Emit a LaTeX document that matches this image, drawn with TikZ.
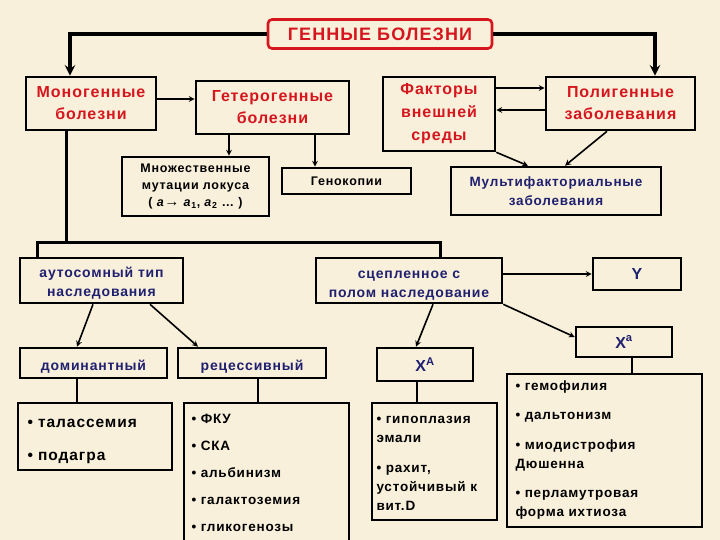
\documentclass[tikz,border=0pt]{standalone}
\usepackage{fontspec}
\setmainfont[LetterSpace=6]{Liberation Sans}
\usepackage{tikz}
\usetikzlibrary{positioning}
\usetikzlibrary{arrows}
\usetikzlibrary{calc}
\definecolor{paper}{RGB}{248,240,218}
\definecolor{redtext}{RGB}{214,22,30}
\definecolor{navy}{RGB}{32,32,112}

\begin{document}
\begin{tikzpicture}[
            x = 1pt, y = -1pt, % pixel grid of the slide
            > = stealth, % arrow head style
            line width = 1.6pt
        ]

        \tikzstyle{box}=[
            draw = black,
            line width = 2.6pt,
            fill = paper,
            align = center,
            inner sep = 0pt,
            font = \bfseries
        ]
        \tikzstyle{redbox}=[box, text = redtext, font = \bfseries\fontsize{16}{22}\selectfont]
        \tikzstyle{bluebox}=[box, text = navy, font = \bfseries\fontsize{14}{19}\selectfont]
        \tikzstyle{blackbox}=[box, font = \bfseries\fontsize{12.5}{17}\selectfont]
        \tikzstyle{items}=[anchor = north west, align = left, inner sep = 0pt]
        \tikzstyle{bus}=[line width = 3pt]
        \tikzstyle{main}=[line width = 3.6pt, ->]

        \useasboundingbox (0,0) rectangle (720,540);
        \fill[paper] (0,0) rectangle (720,540);

	% top level
        \node[box, draw = redtext, rounded corners = 4pt, text = redtext,
              minimum width = 224pt, minimum height = 29pt,
              font = \bfseries\fontsize{18}{20}\selectfont] (G) at (380,34) {ГЕННЫЕ БОЛЕЗНИ};
        \node[redbox, minimum width = 130pt, minimum height = 53pt] (Mono) at (91,103.5) {Моногенные\\болезни};
        \node[redbox, minimum width = 153pt, minimum height = 53pt] (Het) at (272.5,107.5) {Гетерогенные\\болезни};
        \node[redbox, minimum width = 112pt, minimum height = 74pt,
              font = \bfseries\fontsize{16}{23}\selectfont] (Fac) at (439,114) {Факторы\\внешней\\среды};
        \node[redbox, minimum width = 149pt, minimum height = 53pt] (Poly) at (620.5,103.5) {Полигенные\\заболевания};

        \draw[main] (G.west) -| ([xshift=-21pt]Mono.north);
        \draw[main] (G.east) -| ([xshift=34.5pt]Poly.north);

	% second level
        \node[blackbox, minimum width = 147pt, minimum height = 59pt] (Mut) at (195.5,186.5)
            {Множественные\\мутации локуса\\( \textit{a}{\fontsize{15}{17}\selectfont→}\ \textit{a}\textsubscript{1}, \textit{a}\textsubscript{2} … )};
        \node[blackbox, minimum width = 129pt, minimum height = 26pt] (Gc) at (346.5,181) {Генокопии};
        \node[bluebox, minimum width = 210pt, minimum height = 48pt,
              font = \bfseries\fontsize{13.5}{19}\selectfont] (Mf) at (556,191) {Мультифакториальные\\заболевания};

        \path[->] ([yshift=4.5pt]Mono.east) coordinate (m1) edge (m1 -| Het.west);
        \path[->] ([xshift=-43.5pt]Het.south) coordinate (h1) edge (h1 |- Mut.north);
        \path[->] ([xshift=42.5pt]Het.south) coordinate (h2) edge (h2 |- Gc.north);
        \path[->] ([yshift=26pt]Fac.east) coordinate (f1) edge (f1 -| Poly.west);
        \path[->] ([yshift=-6.5pt]Poly.west) coordinate (p1) edge (p1 -| Fac.east);
        \path[->] (Fac.south east) edge ([xshift=-28pt]Mf.north);
        \path[->] ([xshift=-13.5pt]Poly.south) edge ([xshift=9pt]Mf.north);

	% inheritance
        \node[bluebox, text height = 35pt, minimum width = 163pt, minimum height = 45pt] (Aut) at (101.5,280.5) {аутосомный тип\\наследования};
        \node[bluebox, text height = 36pt, minimum width = 186pt, minimum height = 45pt] (Sex) at (409,280.5) {сцепленное с\\полом наследование};
        \node[bluebox, minimum width = 88pt, minimum height = 32pt,
              font = \bfseries\fontsize{16}{19}\selectfont] (Y) at (637,274) {Y};

        \coordinate (busL) at (37,242);
        \coordinate (busR) at (440,242);
        \draw[bus] ([xshift=-25pt]Mono.south) coordinate (m2) -- (m2 |- busL);
        \draw[bus] ([xshift=-64.5pt]Aut.north) -- (busL) -- (busR) -- ([xshift=31pt]Sex.north);

        \node[bluebox, text height = 18pt, minimum width = 147pt, minimum height = 30pt] (Dom) at (93.5,363) {доминантный};
        \node[bluebox, text height = 18pt, minimum width = 148pt, minimum height = 30pt] (Rec) at (252,363) {рецессивный};
        \node[bluebox, minimum width = 96pt, minimum height = 33pt,
              font = \bfseries\fontsize{16}{19}\selectfont] (XA) at (425,364.5) {X\textsuperscript{A}};
        \node[bluebox, minimum width = 96pt, minimum height = 30pt,
              font = \bfseries\fontsize{16}{19}\selectfont] (Xa) at (624,342) {X\textsuperscript{a}};

        \path[->] ([yshift=6.5pt]Sex.east) coordinate (s1) edge (s1 -| Y.west);
        \path[->] ([xshift=24pt]Sex.south) edge ([xshift=-9pt]XA.north);
        \path[->] (Sex.south east) edge ([yshift=5pt]Xa.west);
        \path[->] ([xshift=-8.5pt]Aut.south) edge ([xshift=-16.5pt]Dom.north);
        \path[->] ([xshift=48.5pt]Aut.south) edge ([xshift=-54pt]Rec.north);

	% diseases
        \node[box, minimum width = 154pt, minimum height = 67pt] (DomL) at (95,436.5) {};
        \node[box, minimum width = 165pt, minimum height = 145pt] (RecL) at (266.5,475.5) {};
        \node[box, minimum width = 125pt, minimum height = 117pt] (XAL) at (434.5,461.5) {};
        \node[box, minimum width = 195pt, minimum height = 153pt] (XaL) at (604.5,450.5) {};

        \draw ([xshift=-16.5pt]Dom.south) coordinate (d1) -- (d1 |- DomL.north);
        \draw ([xshift=6pt]Rec.south) coordinate (r1) -- (r1 |- RecL.north);
        \draw ([xshift=-8pt]XA.south) coordinate (x1) -- (x1 |- XAL.north);
        \draw ([xshift=8pt]Xa.south) coordinate (x2) -- (x2 |- XaL.north);

        \node[items, font = \bfseries\fontsize{15.5}{33}\selectfont] (DomT)
            at ([xshift=10pt,yshift=-17pt]DomL.north west) {• талассемия\\• подагра};
        \node[items, font = \bfseries\fontsize{13.5}{27}\selectfont] (RecT)
            at ([xshift=8pt,yshift=-12pt]RecL.north west) {• ФКУ\\• СКА\\• альбинизм\\• галактоземия\\• гликогенозы};
        \node[items, font = \bfseries\fontsize{13.5}{19}\selectfont] (XAT)
            at ([xshift=5pt,yshift=-14pt]XAL.north west) {• гипоплазия\\эмали\\[11pt]• рахит,\\устойчивый к\\вит.D};
        \node[items, font = \bfseries\fontsize{13.5}{19}\selectfont] (XaT)
            at ([xshift=9pt,yshift=-7pt]XaL.north west) {• гемофилия\\[10pt]• дальтонизм\\[11pt]• миодистрофия\\Дюшенна\\[10pt]• перламутровая\\форма ихтиоза};

\end{tikzpicture}
\end{document}
